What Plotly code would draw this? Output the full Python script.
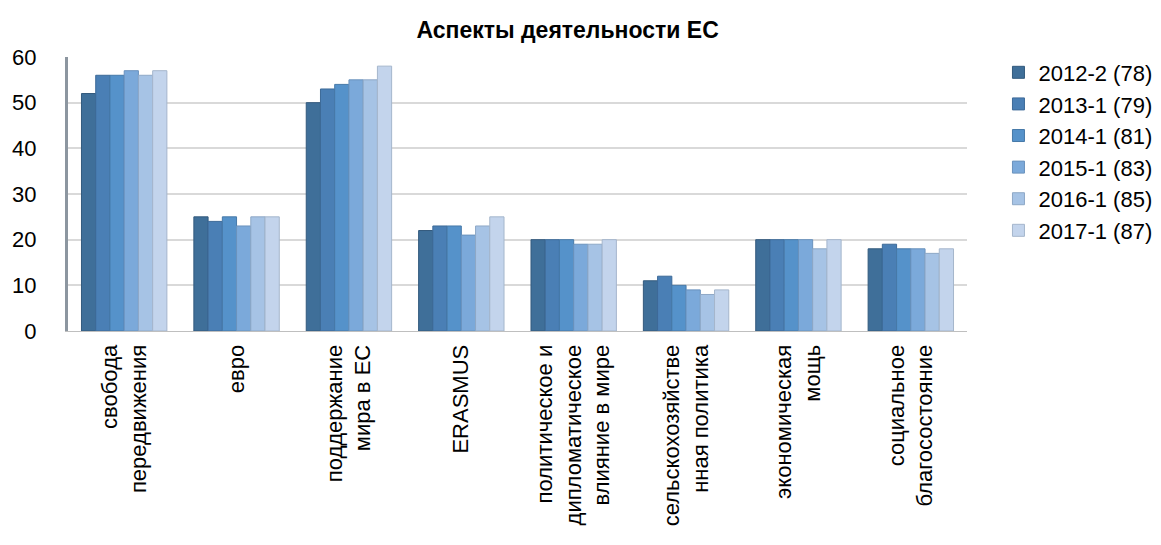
import plotly.graph_objects as go

categories = [
    "свобода<br>передвижения",
    "евро",
    "поддержание<br>мира в ЕС",
    "ERASMUS",
    "политическое и<br>дипломатическое<br>влияние в мире",
    "сельскохозяйстве<br>нная политика",
    "экономическая<br>мощь",
    "социальное<br>благосостояние",
]
series_names = ["2012-2 (78)", "2013-1 (79)", "2014-1 (81)", "2015-1 (83)", "2016-1 (85)", "2017-1 (87)"]
v2012 = [52, 25, 50, 22, 20, 11, 20, 18]
v2013 = [56, 24, 53, 23, 20, 12, 20, 19]
v2014 = [56, 25, 54, 23, 20, 10, 20, 18]
v2015 = [57, 23, 55, 21, 19, 9, 20, 18]
v2016 = [56, 25, 55, 23, 19, 8, 18, 17]
v2017 = [57, 25, 58, 25, 20, 9, 20, 18]
series_values = [v2012, v2013, v2014, v2015, v2016, v2017]
colors = ["#3F6F99", "#4A7FB5", "#5592CA", "#7BA9DA", "#A6C3E5", "#C3D4EC"]
edge_colors = ["#335a7d", "#3d6a98", "#4679a8", "#6a92bd", "#8ea8c6", "#a5b6cc"]

fig = go.Figure()
for name, vals, c, e in zip(series_names, series_values, colors, edge_colors):
    fig.add_trace(go.Bar(
        x=categories, y=vals, name=name,
        marker=dict(color=c, line=dict(color=e, width=1)),
    ))

fig.update_layout(
    width=1161, height=545,
    barmode="group", bargap=0.24, bargroupgap=0.0,
    plot_bgcolor="white", paper_bgcolor="white",
    font=dict(family="Liberation Sans, Arial, sans-serif", color="#000000", size=22),
    title=dict(text="<b>Аспекты деятельности ЕС</b>", x=0.482, xanchor="center",
               y=0.96, yanchor="middle", font=dict(size=23)),
    margin=dict(l=60, r=188, t=49, b=222),
    xaxis=dict(tickangle=-90, showline=True, linecolor="#bfbfbf", linewidth=1,
               ticks="", ticklabelstandoff=4, tickfont=dict(size=22), automargin=False),
    yaxis=dict(range=[0, 60], dtick=10, showgrid=True, gridcolor="#d9d9d9", gridwidth=2,
               showline=True, linecolor="#8c96a0", linewidth=3, ticks="",
               ticklabelstandoff=24, automargin=False,
               tickfont=dict(size=22), zeroline=False),
    legend=dict(x=1.035, xanchor="left", y=1.02, yanchor="top",
                font=dict(size=22), tracegroupgap=0, itemwidth=30),
)

fig.write_html("out.html")
